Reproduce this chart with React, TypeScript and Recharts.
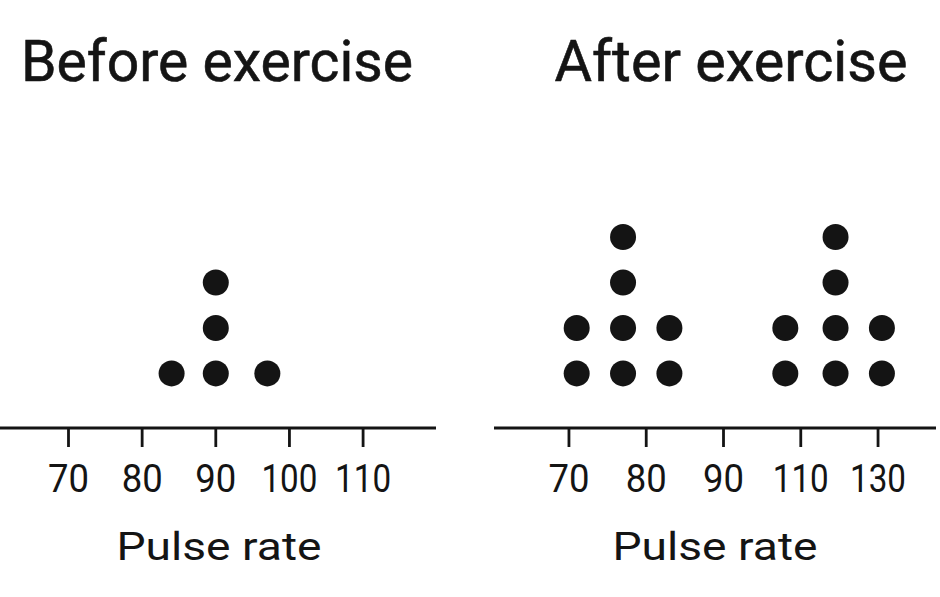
import { ScatterChart, Scatter, XAxis, YAxis } from 'recharts'

// pulse readings, one entry per dot
const beforePulse = [84, 90, 90, 90, 97]
const afterPulse = [71, 71, 77, 77, 77, 77, 83, 83, 106, 106, 119, 119, 119, 119, 131, 131]

// tick labels on each axis
const beforeTicks = [70, 80, 90, 100, 110]
const afterTicks = [70, 80, 90, 110, 130]

const INK = '#141414'

// turn a list of values into dot plot points (count = height in the stack)
const stackDots = (values: number[], toX: (v: number) => number) => {
  const seen: Record<number, number> = {}
  return values.map((v) => {
    seen[v] = (seen[v] || 0) + 1
    return { x: toX(v), count: seen[v], pulse: v }
  })
}

// the after-axis is spaced evenly by label, so map values onto label index
const labelIndex = (v: number) => {
  const n = afterTicks.length
  for (let i = 0; i < n - 1; i++) {
    if (v <= afterTicks[i + 1] || i === n - 2) {
      return i + (v - afterTicks[i]) / (afterTicks[i + 1] - afterTicks[i])
    }
  }
  return 0
}

const beforeData = stackDots(beforePulse, (v) => v)
const afterData = stackDots(afterPulse, labelIndex)

const Dot = (props: any) => <circle cx={props.cx} cy={props.cy} r={13} fill={INK} />

const makeTick = (labelOf: (v: number) => number) => (props: any) => {
  const { x, y, payload } = props
  const label = String(labelOf(payload.value))
  return (
    <text
      x={x}
      y={y + 45}
      textAnchor="middle"
      fontFamily="Roboto"
      fontSize={39}
      fill={INK}
      textLength={label.length > 2 ? 56 : 41}
      lengthAdjust="spacingAndGlyphs"
    >
      {label}
    </text>
  )
}

const axisStyle = { stroke: INK, strokeWidth: 2.8 }

const Title = ({ x, text, width }: { x: number; text: string; width: number }) => (
  <text x={x} y={81} textAnchor="middle" fontFamily="Roboto" fontSize={58} fill={INK}
    stroke={INK} strokeWidth={0.6}
    textLength={width} lengthAdjust="spacingAndGlyphs">
    {text}
  </text>
)

const AxisName = ({ x }: { x: number }) => (
  <text x={x} y={560} textAnchor="middle" fontFamily="Roboto" fontSize={39} fill={INK}
    textLength={205} lengthAdjust="spacingAndGlyphs">
    Pulse rate
  </text>
)

export default function App() {
  return (
    <div style={{ position: 'absolute', left: 0, top: 0, width: 940, height: 597, background: '#fff' }}>
      <div style={{ position: 'absolute', left: 0, top: 0 }}>
        <ScatterChart width={470} height={597} margin={{ top: 146, right: 34, bottom: 0, left: 0 }}>
          <XAxis
            type="number"
            dataKey="x"
            domain={[60.7, 119.9]}
            allowDataOverflow
            ticks={beforeTicks}
            interval={0}
            height={169}
            tickSize={19}
            tickMargin={0}
            axisLine={axisStyle}
            tickLine={axisStyle}
            tick={makeTick((v) => v)}
          />
          <YAxis type="number" dataKey="count" domain={[-0.2, 6]} allowDataOverflow hide />
          <Scatter data={beforeData} shape={Dot} isAnimationActive={false} />
          <Title x={217} text="Before exercise" width={392} />
          <AxisName x={219} />
        </ScatterChart>
      </div>
      <div style={{ position: 'absolute', left: 480, top: 0 }}>
        <ScatterChart width={460} height={597} margin={{ top: 146, right: 4, bottom: 0, left: 14 }}>
          <XAxis
            type="number"
            dataKey="x"
            domain={[-0.97, 4.75]}
            allowDataOverflow
            ticks={afterTicks.map((_, i) => i)}
            interval={0}
            height={169}
            tickSize={19}
            tickMargin={0}
            axisLine={axisStyle}
            tickLine={axisStyle}
            tick={makeTick((i) => afterTicks[i])}
          />
          <YAxis type="number" dataKey="count" domain={[-0.2, 6]} allowDataOverflow hide />
          <Scatter data={afterData} shape={Dot} isAnimationActive={false} />
          <Title x={251} text="After exercise" width={353} />
          <AxisName x={235} />
        </ScatterChart>
      </div>
    </div>
  )
}
